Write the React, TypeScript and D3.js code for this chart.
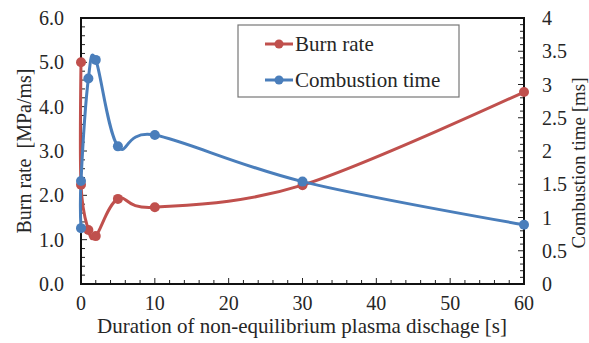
import * as d3 from 'd3';

// duration of plasma discharge [s]
const DURATION = [0, 0, 1, 2, 5, 10, 30, 60];
// burn rate [MPa/ms], left axis
const BURN_RATE = [5.0, 2.24, 1.22, 1.08, 1.92, 1.73, 2.23, 4.33];
// combustion time [ms], right axis
const COMB_TIME = [0.84, 1.55, 3.09, 3.37, 2.07, 2.24, 1.54, 0.89];

const X_TICKS = [0, 10, 20, 30, 40, 50, 60];
const Y_LEFT_TICKS = [0, 1, 2, 3, 4, 5, 6];
const Y_RIGHT_TICKS = [0, 0.5, 1, 1.5, 2, 2.5, 3, 3.5, 4];

const RED = '#c0504d';
const BLUE = '#4a7ebb';
const FONT = "'Liberation Serif', 'Times New Roman', Times, serif";

export default function App() {
  const width = 589;
  const height = 343;
  const m = { left: 81, right: 524, top: 18, bottom: 284 };

  const x = d3.scaleLinear().domain([0, 60]).range([m.left, m.right]);
  const yL = d3.scaleLinear().domain([0, 6]).range([m.bottom, m.top]);
  const yR = d3.scaleLinear().domain([0, 4]).range([m.bottom, m.top]);

  const curve = d3.curveCatmullRom.alpha(0);
  const redPts = DURATION.map((d, i) => [x(d), yL(BURN_RATE[i])] as [number, number]);
  const bluePts = DURATION.map((d, i) => [x(d), yR(COMB_TIME[i])] as [number, number]);
  const line = d3.line().curve(curve);

  const xMinor = d3.range(0, 60.01, 2);
  const yLMinor = d3.range(0, 6.01, 0.2);
  const yRMinor = d3.range(0, 4.001, 0.1);

  return (
    <svg width={width} height={height}
      style={{ position: 'absolute', left: 0, top: 0, background: '#fff', fontFamily: FONT }}>
      {/* minor ticks */}
      {xMinor.map((t, i) => (
        <line key={'xm' + i} x1={x(t)} x2={x(t)} y1={m.bottom} y2={m.bottom - (t % 10 === 0 ? 6 : 4)}
          stroke="#222" strokeWidth={1} />
      ))}
      {yLMinor.map((t, i) => (
        <line key={'ylm' + i} x1={m.left} x2={m.left + (i % 5 === 0 ? 6 : 4)} y1={yL(t)} y2={yL(t)}
          stroke="#222" strokeWidth={1} />
      ))}
      {yRMinor.map((t, i) => (
        <line key={'yrm' + i} x1={m.right} x2={m.right - (i % 5 === 0 ? 6 : 4)} y1={yR(t)} y2={yR(t)}
          stroke="#222" strokeWidth={1} />
      ))}

      {/* frame */}
      <rect x={m.left} y={m.top} width={m.right - m.left} height={m.bottom - m.top}
        fill="none" stroke="#111" strokeWidth={2} />

      {/* series */}
      <path d={line(redPts) ?? ''} fill="none" stroke={RED} strokeWidth={3} />
      <path d={line(bluePts) ?? ''} fill="none" stroke={BLUE} strokeWidth={3} />
      {redPts.map((p, i) => <circle key={'r' + i} cx={p[0]} cy={p[1]} r={5} fill={RED} />)}
      {bluePts.map((p, i) => <circle key={'b' + i} cx={p[0]} cy={p[1]} r={5} fill={BLUE} />)}

      {/* tick labels */}
      <g fontSize={20} fill="#262626">
        {X_TICKS.map(t => (
          <text key={'xt' + t} x={x(t)} y={310} textAnchor="middle">{t}</text>
        ))}
        {Y_LEFT_TICKS.map(t => (
          <text key={'yl' + t} x={64} y={yL(t)} dy="0.35em" textAnchor="end">{t.toFixed(1)}</text>
        ))}
        {Y_RIGHT_TICKS.map(t => (
          <text key={'yr' + t} x={542} y={yR(t)} dy="0.35em" textAnchor="start">{String(t)}</text>
        ))}
      </g>

      {/* axis titles */}
      <g fill="#262626">
        <text x={302} y={333} textAnchor="middle" fontSize={21}>Duration of non-equilibrium plasma dischage [s]</text>
        <text transform="translate(31,151) rotate(-90)" textAnchor="middle" fontSize={20} style={{ whiteSpace: 'pre' }}>
          {'Burn rate  [MPa/ms]'}
        </text>
        <text transform="translate(585,163) rotate(-90)" textAnchor="middle" fontSize={19}>Combustion time [ms]</text>
      </g>

      {/* legend */}
      <g>
        <rect x={238} y={25} width={221} height={72} fill="#fff" stroke="#777" strokeWidth={1.2} />
        <line x1={265} x2={293} y1={44} y2={44} stroke={RED} strokeWidth={3} />
        <circle cx={279} cy={44} r={4.5} fill={RED} />
        <text x={295} y={44} dy="0.35em" fontSize={21} fill="#262626">Burn rate</text>
        <line x1={265} x2={293} y1={80} y2={80} stroke={BLUE} strokeWidth={3} />
        <circle cx={279} cy={80} r={4.5} fill={BLUE} />
        <text x={295} y={80} dy="0.35em" fontSize={21} fill="#262626">Combustion time</text>
      </g>
    </svg>
  );
}
